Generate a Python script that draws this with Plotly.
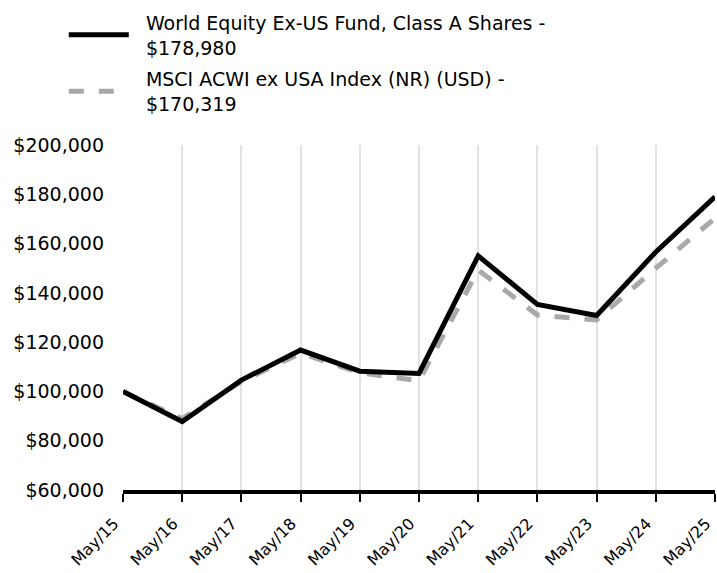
import plotly.graph_objects as go

categories = ["May/15", "May/16", "May/17", "May/18", "May/19", "May/20",
              "May/21", "May/22", "May/23", "May/24", "May/25"]
fund_values = [100000, 87800, 104600, 116800, 108200, 107300,
               155000, 135300, 130800, 156600, 178980]
index_values = [100000, 89000, 104000, 115500, 107500, 104300,
                149300, 131000, 129000, 150000, 170319]
y_ticks = [60000, 80000, 100000, 120000, 140000, 160000, 180000, 200000]
y_tick_labels = ["$60,000", "$80,000", "$100,000", "$120,000", "$140,000",
                 "$160,000", "$180,000", "$200,000"]
fund_name_lines = ["World Equity Ex-US Fund, Class A Shares -", "$178,980"]
index_name_lines = ["MSCI ACWI ex USA Index (NR) (USD) -", "$170,319"]

pad = "\u00a0\u00a0"
fund_name = "<br>".join(pad + s for s in fund_name_lines)
index_name = "<br>".join(pad + s for s in index_name_lines)

xs = list(range(len(categories)))
font_family = "DejaVu Sans, sans-serif"

fig = go.Figure()
fig.add_trace(go.Scatter(x=xs, y=index_values, mode="lines", name=index_name,
                         legendgroup="b", legendrank=2,
                         line=dict(color="#a9a9a9", width=5, dash="dash")))
fig.add_trace(go.Scatter(x=xs, y=fund_values, mode="lines", name=fund_name,
                         legendgroup="a", legendrank=1,
                         line=dict(color="#000000", width=5)))

fig.update_layout(
    width=717, height=573,
    margin=dict(l=123, r=2, t=145, b=83),
    paper_bgcolor="white", plot_bgcolor="white",
    font=dict(family=font_family, size=19, color="#000000"),
    showlegend=True,
    legend=dict(x=-0.1, y=1.41, xanchor="left", yanchor="top",
                font=dict(size=19),
                itemwidth=60, tracegroupgap=4),
    xaxis=dict(range=[0, 10], tickmode="array", tickvals=xs, ticktext=categories,
               tickangle=-45, showgrid=True, gridcolor="#e3e3e3", gridwidth=2,
               showline=True, linecolor="#000000", linewidth=4,
               ticks="outside", ticklen=8, tickwidth=2, tickcolor="#000000",
               tickfont=dict(size=16), zeroline=False, automargin=False,
               ticklabeloverflow="allow", ticklabelstandoff=6,
               ticklabelshift=-9),
    yaxis=dict(range=[60000, 200000], tickmode="array", tickvals=y_ticks,
               ticktext=y_tick_labels, showgrid=False, zeroline=False,
               showline=False, tickfont=dict(size=19), ticks="",
               automargin=False, ticklabelstandoff=18),
)

fig.write_html("out.html", config={"displayModeBar": False},
               post_script="document.body.style.margin='0px';document.body.style.overflow='hidden';")
